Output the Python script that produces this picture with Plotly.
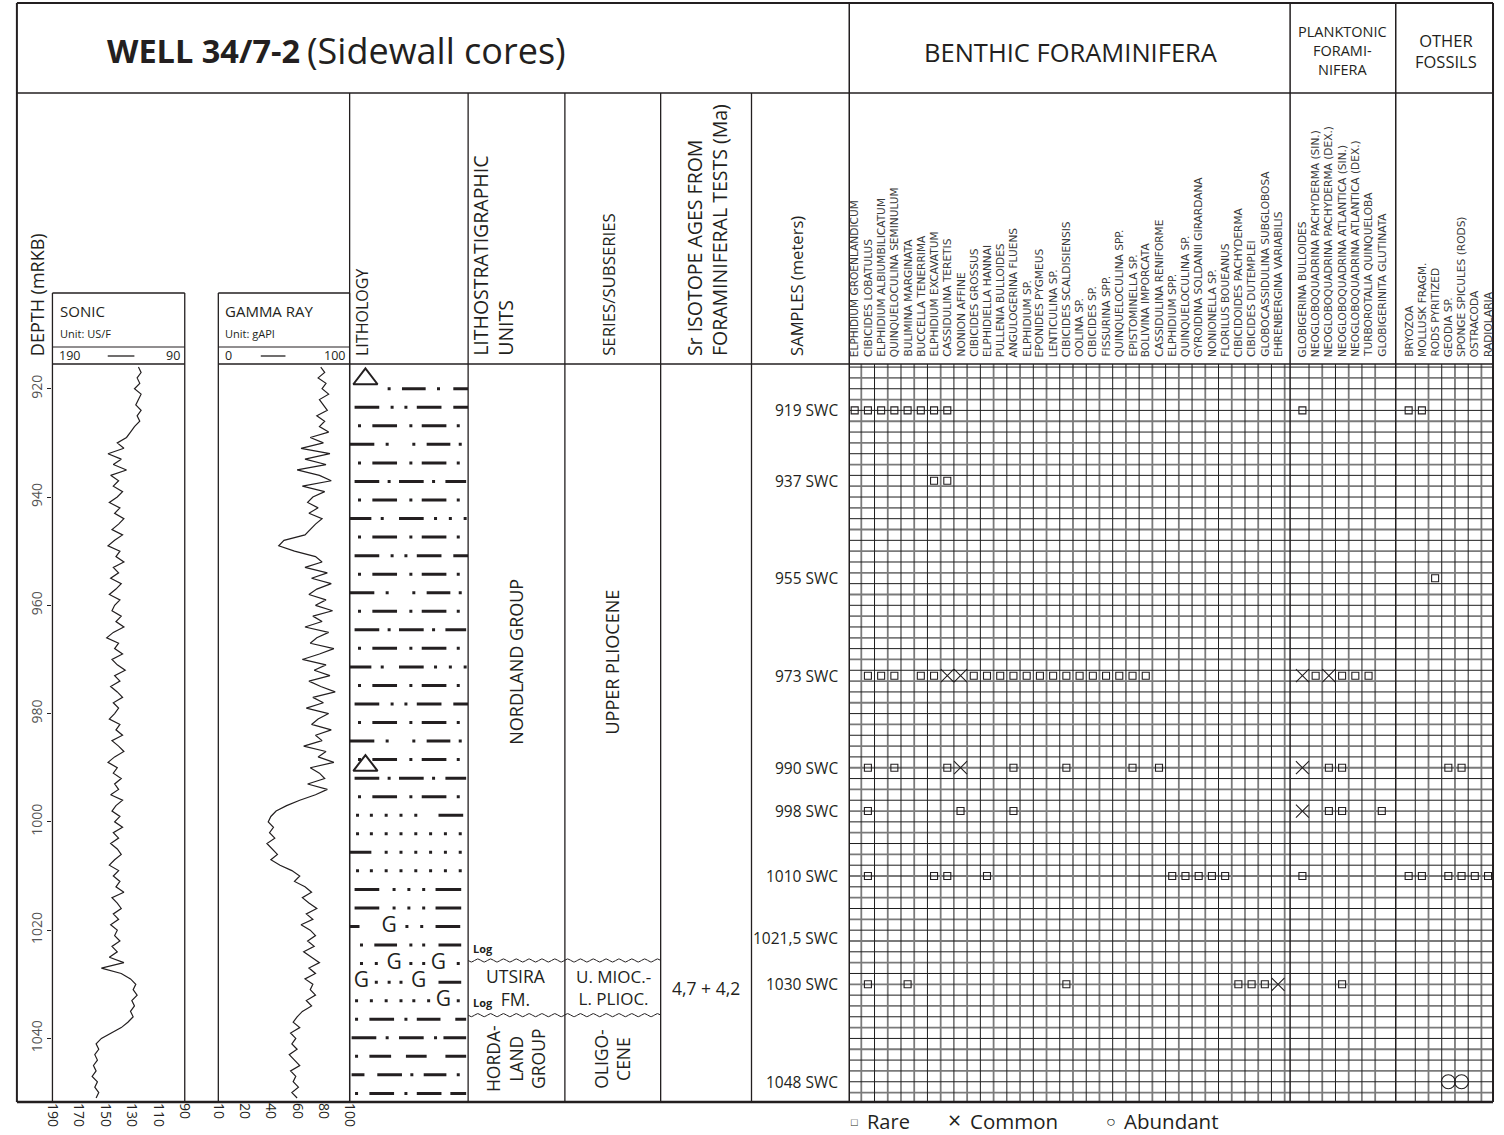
import math
import plotly.graph_objects as go

W, H = 1504, 1135
FONT = "Open Sans, Noto Sans, sans-serif"
INK = "#231f20"

# ------------------------------------------------------------------ data
log_depth_m = list(range(916, 1052))
sonic_us_ft = [
    125, 123, 126, 124, 128, 123, 125, 127, 123, 126, 124, 128, 131, 134,
    141, 136, 148, 138, 144, 134, 146, 140, 144, 137, 141, 147, 139, 143, 136,
    140, 145, 137, 143, 148, 139, 142, 136, 144, 140, 146, 138, 142, 147, 139, 143,
    145, 138, 142, 136, 144, 149, 140, 143, 137, 145, 141, 135, 143, 139, 146, 141, 137, 144, 140, 143,
    147, 139, 142, 137, 145, 140, 136, 143, 148, 141, 144, 138, 143, 140, 146, 137, 142, 145, 139, 143,
    137, 144, 140, 146, 141, 138, 143, 147, 140, 144, 139, 142, 136, 145, 141, 138, 144, 140, 146, 141,
    143, 139, 145, 141, 147, 136, 153, 138, 131, 127,
    129, 126, 130, 128, 131, 129, 133, 138, 146, 153,
    157, 155, 158, 156, 159, 157, 160, 156, 158, 155, 157,
]
gamma_api = [
    78, 81, 76, 82, 79, 84, 77, 80, 83, 75, 81, 77, 84, 70,
    80, 63, 85, 66, 82, 60, 77, 86, 64, 81, 72, 68, 76, 69, 79,
    74, 70, 66, 50, 46, 58, 74, 79, 66, 83, 71, 86, 75, 69, 82, 74, 87,
    72, 79, 66, 84, 75, 70, 88, 77, 64, 82, 73, 85, 69, 78, 89, 72, 80, 67, 84, 76,
    71, 86, 74, 79, 65, 82, 76, 88, 70, 77, 81, 68, 83, 74, 62, 52, 44, 40, 38, 42,
    39, 43, 37, 41, 45, 40, 47, 56, 62, 58, 66, 71, 64, 69, 75, 67, 72, 63, 70, 74,
    68, 73, 65, 71, 77, 69, 74, 66, 72, 70,
    74, 67, 71, 64, 60, 57, 62, 55, 59, 56,
    60, 54, 58, 62, 55, 59, 57, 61, 56, 60, 58,
][:136]

sample_depth_m = [919, 937, 955, 973, 990, 998, 1010, 1021.5, 1030, 1048]
sample_label = ["919 SWC", "937 SWC", "955 SWC", "973 SWC", "990 SWC", "998 SWC",
                "1010 SWC", "1021,5 SWC", "1030 SWC", "1048 SWC"]

benthic_species = [
    "ELPHIDIUM GROENLANDICUM", "CIBICIDES LOBATULUS", "ELPHIDIUM ALBIUMBILICATUM",
    "QUINQUELOCULINA SEMINULUM", "BULIMINA MARGINATA", "BUCCELLA TENERRIMA",
    "ELPHIDIUM EXCAVATUM", "CASSIDULINA TERETIS", "NONION AFFINE", "CIBICIDES GROSSUS",
    "ELPHIDIELLA HANNAI", "PULLENIA BULLOIDES", "ANGULOGERINA FLUENS", "ELPHIDIUM SP.",
    "EPONIDES PYGMEUS", "LENTICULINA SP.", "CIBICIDES SCALDISIENSIS", "OOLINA SP.",
    "CIBICIDES SP.", "FISSURINA SPP.", "QUINQUELOCULINA SPP.", "EPISTOMINELLA SP.",
    "BOLIVINA IMPORCATA", "CASSIDULINA RENIFORME", "ELPHIDIUM SPP.", "QUINQUELOCULINA SP.",
    "GYROIDINA SOLDANII GIRARDANA", "NONIONELLA SP.", "FLORILUS BOUEANUS",
    "CIBICIDOIDES PACHYDERMA", "CIBICIDES DUTEMPLEI", "GLOBOCASSIDULINA SUBGLOBOSA",
    "EHRENBERGINA VARIABILIS",
]
planktonic_species = [
    "GLOBIGERINA BULLOIDES", "NEOGLOBOQUADRINA PACHYDERMA (SIN.)",
    "NEOGLOBOQUADRINA PACHYDERMA (DEX.)", "NEOGLOBOQUADRINA ATLANTICA (SIN.)",
    "NEOGLOBOQUADRINA ATLANTICA (DEX.)", "TURBOROTALIA QUINQUELOBA", "GLOBIGERINITA GLUTINATA",
]
other_species = [
    "BRYOZOA", "MOLLUSK FRAGM.", "RODS PYRITIZED", "GEODIA SP.",
    "SPONGE SPICULES (RODS)", "OSTRACODA", "RADIOLARIA",
]

# occurrences: sample depth -> species column numbers (1-based)
benthic_rare = {
    919: [1, 2, 3, 4, 5, 6, 7, 8],
    937: [7, 8],
    973: [2, 3, 4, 6, 7, 10, 11, 12, 13, 14, 15, 16, 17, 18, 19, 20, 21, 22, 23],
    990: [2, 4, 8, 13, 17, 22, 24],
    998: [2, 9, 13],
    1010: [2, 7, 8, 11, 25, 26, 27, 28, 29],
    1030: [2, 5, 17, 30, 31, 32],
}
benthic_common = {973: [8, 9], 990: [9], 1030: [33]}
planktonic_rare = {919: [1], 973: [2, 4, 5, 6], 990: [3, 4], 998: [3, 4, 7], 1010: [1], 1030: [4]}
planktonic_common = {973: [1, 3], 990: [1], 998: [1]}
other_rare = {919: [1, 2], 955: [3], 990: [4, 5], 1010: [1, 2, 4, 5, 6, 7]}
other_abundant = {1048: [4, 5]}

utsira_top_m = 1025.6
utsira_base_m = 1035.7
sr_age_label = "4,7 + 4,2"

sonic_ticks = [190, 170, 150, 130, 110, 90]
gamma_ticks = [0, 20, 40, 60, 80, 100]
gamma_ticktext = ["10", "20", "40", "60", "80", "100"]
depth_ticks = [920, 940, 960, 980, 1000, 1020, 1040]

# ------------------------------------------------------------------ layout helpers
def px(x):
    return x / W


def py(y):
    return 1 - y / H


DATA_TOP, DATA_BOT = 364, 1102
DEPTH_TOP, DEPTH_BOT = 915.43, 1051.74
FIRST_SAMPLE_ROW = 924.0   # samples above this are drawn on the first usable grid row
COLW = 13.4
U_PIX0 = 856.5           # pixel centre of first benthic column
BEN_U0, PLK_U0, OTH_U0 = 0.0, 33.84, 41.87
U_MIN = (851 - U_PIX0) / COLW
U_MAX = (1503 - U_PIX0) / COLW


def row_of(d):
    return max(d, FIRST_SAMPLE_ROW)


shapes = []
annots = []


def line_px(x0, y0, x1, y1, w=1.5, color=INK):
    shapes.append(dict(type="line", xref="paper", yref="paper",
                       x0=px(x0), y0=py(y0), x1=px(x1), y1=py(y1),
                       line=dict(color=color, width=w)))


def text_px(x, y, s, size, xanchor="center", yanchor="middle", angle=0, align="center",
            color=INK, yref="paper", family=FONT):
    annots.append(dict(xref="paper", yref=yref, x=px(x), y=(py(y) if yref == "paper" else y),
                       text=s, showarrow=False, xanchor=xanchor, yanchor=yanchor,
                       textangle=angle, align=align,
                       font=dict(size=size, color=color, family=family)))


fig = go.Figure()

# ------------------------------------------------------------------ logs
fig.add_trace(go.Scatter(x=sonic_us_ft, y=log_depth_m, xaxis="x", yaxis="y", mode="lines",
                         line=dict(color=INK, width=1.2), hoverinfo="skip"))
fig.add_trace(go.Scatter(x=gamma_api, y=log_depth_m, xaxis="x2", yaxis="y", mode="lines",
                         line=dict(color=INK, width=1.2), hoverinfo="skip"))

# ------------------------------------------------------------------ lithology pattern
A = ([(23, 48), (73, 98)], [10, 62, 110], [])
B = ([(5, 30), (68, 93), (105, 120)], [43, 57], [])
C = ([(0, 25), (78, 102)], [38, 65, 112], [])
D = ([(5, 30), (50, 75), (97, 118)], [40, 85], [])
E = ([(0, 22), (50, 75)], [33, 87, 102, 117], [])
F = ([], [8, 22, 37, 52, 67, 82, 97, 112], [])
rows = [([(53, 77), (105, 120)], [40, 90], [])]
odd_cycle = [B, C, D, E]
for k in range(1, 23):
    rows.append(A if k % 2 == 0 else odd_cycle[(k // 2) % 4])
rows += [
    ([(90, 115)], [8, 22, 37, 52, 67], []),
    F,
    ([(0, 22)], [37, 52, 67, 82, 97, 112], []),
    F,
    ([(5, 30), (87, 113)], [45, 60, 75], []),
    ([(5, 30), (87, 113)], [45, 60, 75], []),
    ([(0, 10), (87, 112)], [58, 73], [(40, "G")]),
    ([(25, 48), (90, 113)], [12, 62, 75], []),
    ([], [12, 27, 62, 75, 110], [(45, "G"), (90, "G")]),
    ([(90, 113)], [27, 40, 52], [(12, "G"), (70, "G")]),
    ([], [7, 22, 37, 52, 65, 80, 110], [(95, "G")]),
    ([(20, 45), (68, 92), (107, 118)], [7, 57], []),
    ([(2, 27), (50, 75), (95, 118)], [38, 87], []),
    ([(20, 42), (57, 78), (97, 118)], [7], []),
    ([(2, 15), (28, 53), (75, 98)], [63, 110], []),
    ([(20, 45), (68, 93), (102, 118)], [7, 57], []),
]
ROW0, ROWSTEP = 920.0, 3.425
dx, dy, ox, oy, gx, gy, gt = [], [], [], [], [], [], []
for k, (dashes, dots, glyphs) in enumerate(rows):
    d = ROW0 + k * ROWSTEP
    for a, b in dashes:
        dx += [a, b, None]
        dy += [d, d, None]
    for a in dots:
        ox.append(a)
        oy.append(d)
    for a, g in glyphs:
        gx.append(a)
        gy.append(d)
        gt.append(g)
fig.add_trace(go.Scatter(x=dx, y=dy, xaxis="x3", yaxis="y", mode="lines",
                         line=dict(color=INK, width=3), hoverinfo="skip"))
fig.add_trace(go.Scatter(x=ox, y=oy, xaxis="x3", yaxis="y", mode="markers",
                         marker=dict(symbol="square", size=3, color=INK), hoverinfo="skip"))
fig.add_trace(go.Scatter(x=gx, y=gy, xaxis="x3", yaxis="y", mode="text", text=gt,
                         textfont=dict(size=21, color=INK, family=FONT), hoverinfo="skip"))
fig.add_trace(go.Scatter(x=[16, 16], y=[918.2, 989.6], xaxis="x3", yaxis="y", mode="markers",
                         marker=dict(symbol="triangle-up-open", size=21, color=INK,
                                     line=dict(width=2, color=INK)), hoverinfo="skip"))

# ------------------------------------------------------------------ wavy log picks
for top in (utsira_top_m, utsira_base_m):
    wx = [i * 0.5 for i in range(0, 391)]
    wy = [top + 0.28 * math.sin(2 * math.pi * v / 13.0) for v in wx]
    fig.add_trace(go.Scatter(x=wx, y=wy, xaxis="x4", yaxis="y", mode="lines",
                             line=dict(color=INK, width=1), hoverinfo="skip"))
    text_px(468, top - 0.55, "<b>Log</b>", 11, xanchor="left", yanchor="bottom", yref="y")

# ------------------------------------------------------------------ fossil grid
hx, hy, gx2, gy2 = [], [], [], []
for d in range(916, 1052, 2):
    tgt = (gx2, gy2) if d % 4 == 2 else (hx, hy)
    tgt[0].extend([U_MIN, U_MAX, None])
    tgt[1].extend([d, d, None])
vx, vy, vgx, vgy = [], [], [], []
bounds = [BEN_U0 + i + 0.5 for i in range(33)]
bounds += [PLK_U0 + j + 0.5 for j in range(6)]
bounds += [OTH_U0 + k + 0.5 for k in range(6)]
for i, u in enumerate(bounds):
    tgt = (vgx, vgy) if i % 2 == 0 else (vx, vy)
    tgt[0].extend([u, u, None])
    tgt[1].extend([DEPTH_TOP, DEPTH_BOT, None])
for xs, ys, col, w in ((gx2, gy2, "#7a7a7a", 1.8), (vgx, vgy, "#7a7a7a", 1.8),
                       (hx, hy, "#1e1e1e", 1.0), (vx, vy, "#1e1e1e", 1.0)):
    fig.add_trace(go.Scatter(x=xs, y=ys, xaxis="x5", yaxis="y", mode="lines",
                             line=dict(color=col, width=w), hoverinfo="skip"))


def occ_points(occ, u0):
    xs, ys = [], []
    for d, cols in occ.items():
        for k in cols:
            xs.append(u0 + k - 1)
            ys.append(row_of(d))
    return xs, ys


for occ, u0, sym, size in (
    (benthic_rare, BEN_U0, "square-open", 7), (planktonic_rare, PLK_U0, "square-open", 7),
    (other_rare, OTH_U0, "square-open", 7), (benthic_common, BEN_U0, "x-thin-open", 13),
    (planktonic_common, PLK_U0, "x-thin-open", 13), (other_abundant, OTH_U0, "circle-open", 14),
):
    xs, ys = occ_points(occ, u0)
    fig.add_trace(go.Scatter(x=xs, y=ys, xaxis="x5", yaxis="y", mode="markers",
                             marker=dict(symbol=sym, size=size, color=INK,
                                         line=dict(color=INK, width=1.1)),
                             hoverinfo="skip"))

# sample ticks + labels
stx, sty = [], []
for d, lab in zip(sample_depth_m, sample_label):
    stx += [U_MIN - 0.45, U_MIN, None]
    sty += [row_of(d), row_of(d), None]
    text_px(842, row_of(d), lab, 15.5, xanchor="right", yanchor="middle", yref="y")
fig.add_trace(go.Scatter(x=stx, y=sty, xaxis="x5", yaxis="y", mode="lines", cliponaxis=False,
                         line=dict(color=INK, width=1.2), hoverinfo="skip"))

# ------------------------------------------------------------------ frame lines
line_px(8, 3, 1503, 3, 2)
line_px(8, 1102, 1503, 1102, 2.5)
line_px(8, 3, 8, 1102, 2)
line_px(1503, 3, 1503, 1102, 2)
line_px(8, 93, 1503, 93, 1.5)
for x in (851, 1297.5, 1404.5):
    line_px(x, 3, x, 1102, 1.5)
for x in (345, 465, 563, 660, 752):
    line_px(x, 93, x, 1102, 1.3)
line_px(345, 364, 1503, 364, 1.5)
for x0, x1 in ((44, 178), (212, 345)):
    line_px(x0, 293, x1, 293, 1.3)
    line_px(x0, 347, x1, 347, 1.0)
    line_px(x0, 364, x1, 364, 1.3)
    line_px(x0, 293, x0, 1102, 1.3)
    line_px(x1, 293, x1, 1102, 1.3)
line_px(100, 356, 127, 356, 1.3)
line_px(255, 356, 280, 356, 1.3)

# ------------------------------------------------------------------ header text
text_px(97, 50, "<b>WELL 34/7-2</b>", 32.5, xanchor="left")
text_px(300, 50, "(Sidewall cores)", 36, xanchor="left")
text_px(1076, 52, "BENTHIC FORAMINIFERA", 25.5)
text_px(1351, 51, "PLANKTONIC<br>FORAMI-<br>NIFERA", 14.5)
text_px(1455, 51, "OTHER<br>FOSSILS", 16.5)

text_px(28, 358, "DEPTH (mRKB)", 18, yanchor="bottom", angle=-90)
text_px(50, 311, "SONIC", 15, xanchor="left")
text_px(50, 333, "Unit: US/F", 11, xanchor="left")
text_px(49, 356, "190", 12.5, xanchor="left")
text_px(175, 356, "90", 12.5, xanchor="right")
text_px(217, 311, "GAMMA RAY", 15, xanchor="left")
text_px(217, 333, "Unit: gAPI", 11, xanchor="left")
text_px(217, 356, "0", 12.5, xanchor="left")
text_px(342, 356, "100", 12.5, xanchor="right")

text_px(357, 358, "LITHOLOGY", 16, yanchor="bottom", angle=-90)
text_px(490, 358, "LITHOSTRATIGRAPHIC<br>UNITS", 19.5, yanchor="bottom", angle=-90, align="left")
text_px(607, 358, "SERIES/SUBSERIES", 16.8, yanchor="bottom", angle=-90)
text_px(707, 358, "Sr ISOTOPE AGES FROM<br>FORAMINIFERAL TESTS (Ma)", 19.5, yanchor="bottom",
        angle=-90, align="left")
text_px(797, 358, "SAMPLES (meters)", 16.6, yanchor="bottom", angle=-90)

for names, u0 in ((benthic_species, BEN_U0), (planktonic_species, PLK_U0), (other_species, OTH_U0)):
    for k, nm in enumerate(names):
        xc = U_PIX0 + (u0 + k) * COLW
        text_px(xc, 359, nm, 10.6, yanchor="bottom", angle=-90, color="#3a3a3a",
                family="DejaVu Sans, sans-serif")

# ------------------------------------------------------------------ unit labels
nord_mid = (DEPTH_TOP + utsira_top_m) / 2
hord_mid = (utsira_base_m + DEPTH_BOT) / 2
uts_mid = (utsira_top_m + utsira_base_m) / 2
text_px(514, nord_mid, "NORDLAND GROUP", 18, angle=-90, yref="y")
text_px(611, nord_mid, "UPPER PLIOCENE", 18, angle=-90, yref="y")
text_px(513, uts_mid, "UTSIRA<br>FM.", 17.5, yref="y")
text_px(612, uts_mid, "U. MIOC.-<br>L. PLIOC.", 17, yref="y")
text_px(513, hord_mid, "HORDA-<br>LAND<br>GROUP", 17.5, angle=-90, yref="y")
text_px(611, hord_mid, "OLIGO-<br>CENE", 17.5, angle=-90, yref="y")
text_px(706, uts_mid, sr_age_label, 17.5, yref="y")

# ------------------------------------------------------------------ abundance key
text_px(856.5, 1121, "\u25a1", 11)
text_px(867, 1121, "Rare", 20, xanchor="left")
text_px(958, 1120, "\u00d7", 23)
text_px(971, 1121, "Common", 20.5, xanchor="left")
text_px(1116, 1121, "\u25cb", 16)
text_px(1127, 1121, "Abundant", 20.5, xanchor="left")

hidden = dict(visible=False, showgrid=False, zeroline=False, fixedrange=True)
fig.update_layout(
    width=W, height=H, margin=dict(l=0, r=0, t=0, b=0), autosize=False,
    paper_bgcolor="white", plot_bgcolor="rgba(0,0,0,0)",
    font=dict(family=FONT, color=INK), showlegend=False,
    shapes=shapes, annotations=annots,
    xaxis=dict(domain=[px(44), px(178)], range=[190, 90], anchor="y", tickvals=sonic_ticks,
               tickangle=90, ticks="", showgrid=False, zeroline=False, showline=False,
               tickfont=dict(size=14, family=FONT, color=INK), fixedrange=True),
    xaxis2=dict(domain=[px(212), px(345)], range=[0, 100], anchor="y", tickvals=gamma_ticks,
                ticktext=gamma_ticktext, tickangle=90, ticks="", showgrid=False, zeroline=False,
                showline=False, tickfont=dict(size=14, family=FONT, color=INK), fixedrange=True),
    xaxis3=dict(domain=[px(345), px(465)], range=[0, 120], anchor="y", **hidden),
    xaxis4=dict(domain=[px(465), px(660)], range=[0, 195], anchor="y", **hidden),
    xaxis5=dict(domain=[px(851), px(1503)], range=[U_MIN, U_MAX], anchor="y", **hidden),
    yaxis=dict(domain=[py(DATA_BOT), py(DATA_TOP)], range=[DEPTH_BOT, DEPTH_TOP], anchor="x",
               tickvals=depth_ticks, tickangle=-90, ticks="outside", ticklen=4, tickcolor=INK,
               showgrid=False, zeroline=False, showline=False,
               tickfont=dict(size=14, family=FONT, color="#555"), fixedrange=True),
)

fig.write_html(
    "out.html",
    config={"displayModeBar": False, "responsive": False},
    post_script=(
        "document.documentElement.style.overflow='hidden';"
        "document.body.style.margin='0px';"
        "document.body.style.overflow='hidden';"
        "var gd=document.getElementById('{plot_id}');"
        "gd.style.position='fixed';gd.style.left='0px';gd.style.top='0px';"
    ),
)
